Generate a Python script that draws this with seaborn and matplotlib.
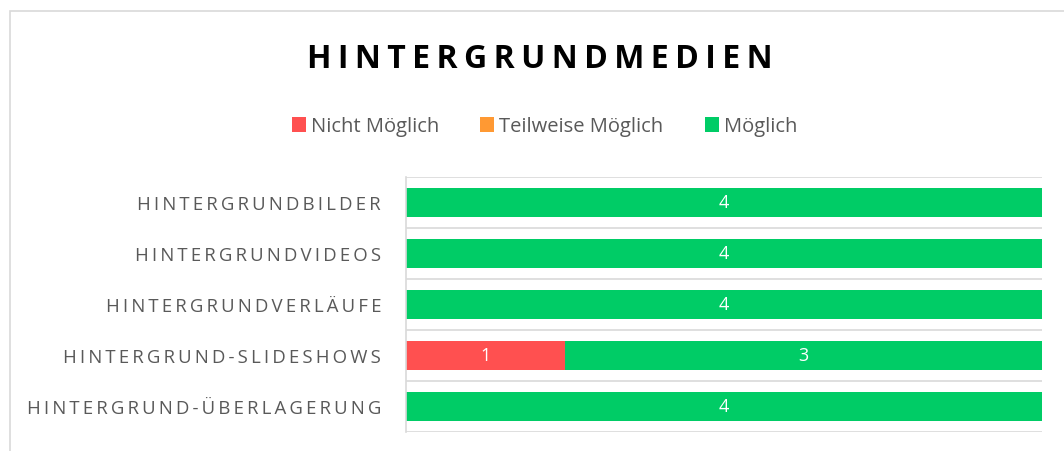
import matplotlib
matplotlib.use("Agg")
import matplotlib.pyplot as plt
import seaborn as sns
import numpy as np
import pandas as pd
from matplotlib.patches import Patch, Rectangle

categories = ["Hintergrundbilder", "Hintergrundvideos", "Hintergrundverläufe",
              "Hintergrund-Slideshows", "Hintergrund-Überlagerung"]
series_names = ["Nicht Möglich", "Teilweise Möglich", "Möglich"]
nicht = [0, 0, 0, 1, 0]
teilweise = [0, 0, 0, 0, 0]
moeglich = [4, 4, 4, 3, 4]
title = "Hintergrundmedien"

colors = ["#FF5050", "#FF9933", "#00CC66"]
FAM = ["Open Sans", "DejaVu Sans"]
GRAY = "#595959"

def spaced(s, sep="\u2009"):
    return sep.join(list(s.upper()))

sns.set_theme(style="white")
plt.rcParams["font.family"] = FAM

W, H = 1064, 452
fig = plt.figure(figsize=(W / 100, H / 100), dpi=100)
ax = fig.add_axes([406 / W, 1 - 433 / H, (1042 - 406) / W, (433 - 178) / H])

vals = [np.array(nicht), np.array(teilweise), np.array(moeglich)]
cums = np.cumsum(vals, axis=0)
labels_y = [spaced(c) for c in categories]

# draw cumulative layers from widest to narrowest
for k in [2, 1, 0]:
    df = pd.DataFrame({"cat": labels_y, "val": cums[k]})
    sns.barplot(data=df, x="val", y="cat", color=colors[k], width=0.57,
                saturation=1, ax=ax, orient="h", linewidth=0)

# segment labels
for k in range(3):
    left = cums[k] - vals[k]
    for i, v in enumerate(vals[k]):
        if v > 0:
            ax.text(left[i] + v / 2, i, str(v), ha="center", va="center",
                    color="white", fontsize=13, family=FAM)

ax.set_xlim(0, cums[-1].max())
ax.set_ylim(len(categories) - 0.5, -0.5)
ax.set_xlabel("")
ax.set_ylabel("")
ax.set_xticks([])
ax.set_yticks(range(len(categories)))
ax.set_yticklabels(labels_y, fontsize=13.4, color=GRAY, family=FAM)
ax.tick_params(axis="y", length=0, pad=18)
ax.set_yticks(np.arange(-0.5, len(categories), 1), minor=True)
ax.tick_params(axis="y", which="minor", length=0)
ax.grid(True, axis="y", which="minor", color="#D9D9D9", linewidth=1.2)
ax.set_axisbelow(True)
for s in ["top", "right", "bottom"]:
    ax.spines[s].set_visible(False)
ax.spines["left"].set_color("#D9D9D9")
ax.spines["left"].set_linewidth(1.2)

# outer chart border
fig.patches.append(Rectangle((10 / W, -0.1), 1.2, 1 - 12 / H + 0.1, transform=fig.transFigure,
                             fill=False, edgecolor="#D9D9D9", linewidth=1.2))

fig.text(539.5 / W, 1 - 60 / H, spaced(title, "\u2009"), ha="center", va="center",
         fontsize=23, fontweight="bold", color="black", family=FAM)

handles = [Patch(facecolor=c, edgecolor="none", label=n) for c, n in zip(colors, series_names)]
fig.legend(handles=handles, loc="center", bbox_to_anchor=(544.5 / W, 1 - 127.5 / H), ncol=3,
           frameon=False, fontsize=14.5, handlelength=0.7, handleheight=0.7,
           handletextpad=0.25, columnspacing=2.05, labelcolor=GRAY)

fig.savefig("out.png", dpi=100)
